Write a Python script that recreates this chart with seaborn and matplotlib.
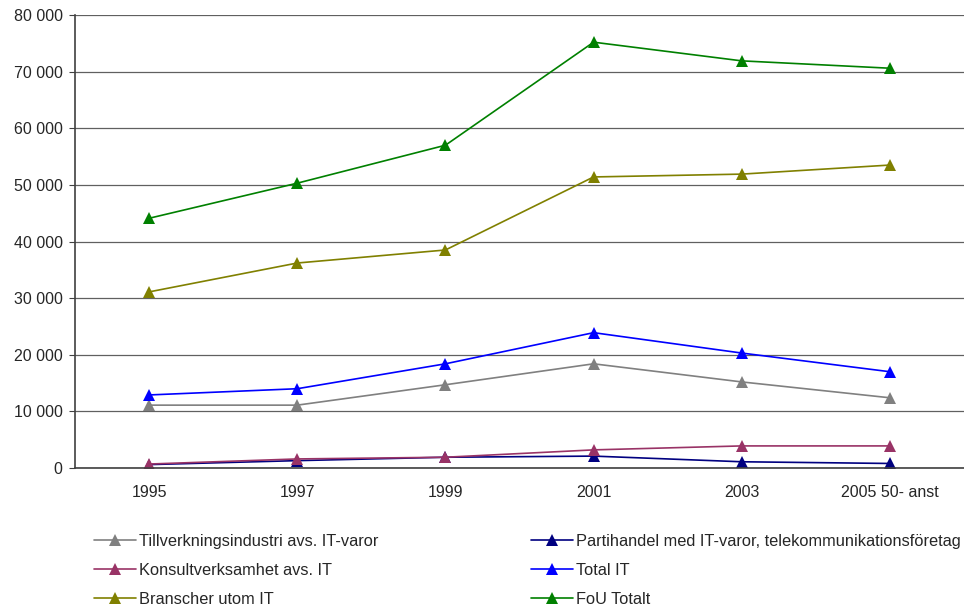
import matplotlib
matplotlib.use("Agg")
import matplotlib.pyplot as plt
import seaborn as sns
import pandas as pd
from matplotlib.ticker import FuncFormatter

years = ["1995", "1997", "1999", "2001", "2003", "2005 50- anst"]

tillverkning = [11100, 11100, 14700, 18400, 15200, 12400]
partihandel = [600, 1300, 1900, 2100, 1100, 800]
konsult = [700, 1600, 1900, 3200, 3900, 3900]
total_it = [12900, 14000, 18400, 23900, 20300, 17000]
branscher = [31100, 36200, 38500, 51400, 51900, 53500]
fou_totalt = [44100, 50300, 57000, 75200, 71900, 70600]

series = {
    "Tillverkningsindustri avs. IT-varor": tillverkning,
    "Partihandel med IT-varor, telekommunikationsföretag": partihandel,
    "Konsultverksamhet avs. IT": konsult,
    "Total IT": total_it,
    "Branscher utom IT": branscher,
    "FoU Totalt": fou_totalt,
}
colors = {
    "Tillverkningsindustri avs. IT-varor": "#808080",
    "Partihandel med IT-varor, telekommunikationsföretag": "#000080",
    "Konsultverksamhet avs. IT": "#993366",
    "Total IT": "#0000FF",
    "Branscher utom IT": "#808000",
    "FoU Totalt": "#008000",
}

rows = []
for name, vals in series.items():
    for i, v in enumerate(vals):
        rows.append({"pos": i, "serie": name, "value": v})
df = pd.DataFrame(rows)

sns.set_style("white")
plt.rcParams['font.family'] = ['Liberation Sans', 'DejaVu Sans']
plt.rcParams['font.size'] = 11.5

fig = plt.figure(figsize=(9.64, 6.09), dpi=100)
ax = fig.add_axes([75 / 964, 1 - 468 / 609, 1 - 75 / 964, (468 - 15) / 609])

for name in series:
    sub = df[df["serie"] == name]
    sns.lineplot(data=sub, x="pos", y="value", ax=ax, color=colors[name],
                 marker="^", markersize=8, markeredgewidth=0, linewidth=1.2,
                 label=name)

ax.set_xlim(-0.5, -0.5 + (964 - 75) / 149.5)
ax.set_ylim(0, 80000)
ax.set_yticks(range(0, 80001, 10000))
ax.yaxis.set_major_formatter(FuncFormatter(lambda v, p: f"{int(v):,}".replace(",", " ")))
ax.set_xticks(range(len(years)))
ax.set_xticklabels(years)
ax.set_xticks([i + 0.5 for i in range(-1, 6)], minor=True)
ax.tick_params(axis="x", which="major", length=0, pad=12, labelsize=11.5)
ax.tick_params(axis="x", which="minor", length=4, color="#404040", direction="out")
ax.tick_params(axis="y", length=4, color="#404040", direction="out", left=True,
               pad=5, labelsize=11.5)
ax.grid(axis="y", color="#606060", linewidth=0.9)
ax.set_axisbelow(True)
ax.set_xlabel("")
ax.set_ylabel("")
for s in ["top", "right"]:
    ax.spines[s].set_visible(False)
ax.spines["left"].set_color("#404040")
ax.spines["bottom"].set_color("#404040")
ax.spines["left"].set_linewidth(1.2)
ax.spines["bottom"].set_linewidth(1.2)

handles, labels = ax.get_legend_handles_labels()
ax.get_legend().remove()
order = [0, 2, 4, 1, 3, 5]
fig.legend([handles[i] for i in order], [labels[i] for i in order],
           ncol=2, loc="upper left", bbox_to_anchor=(79 / 964, 1 - 519 / 609),
           frameon=False, handlelength=2.55, handletextpad=0.2,
           columnspacing=9.33, labelspacing=0.85, fontsize=11.8)

fig.savefig("out.png", dpi=100)
